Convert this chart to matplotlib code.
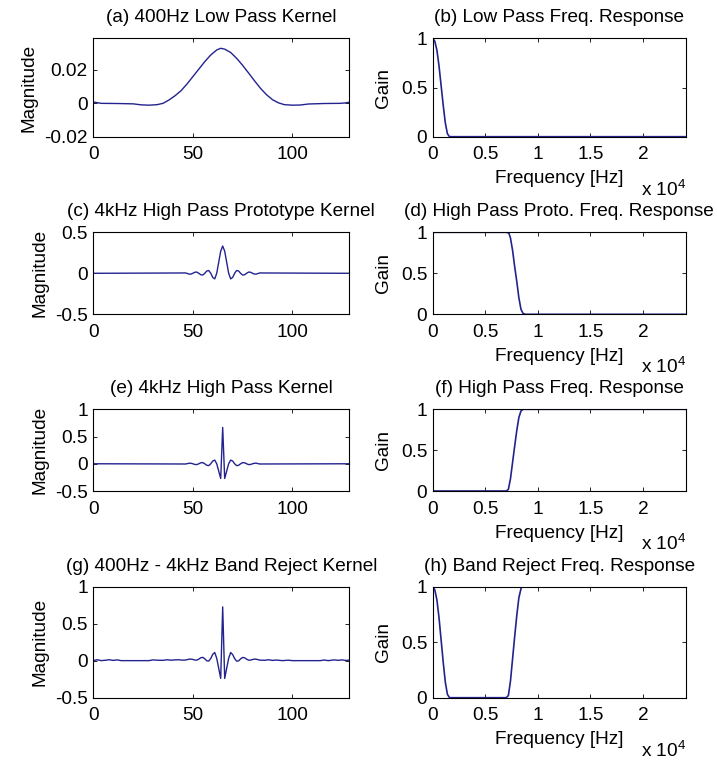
import numpy as np
import matplotlib
matplotlib.use('Agg')
import matplotlib.pyplot as plt

plt.rcParams['font.family'] = ['Liberation Sans', 'DejaVu Sans']
plt.rcParams['mathtext.default'] = 'regular'

# ---- kernels (sample index, value) ----
# (a) 400Hz low pass kernel
lp_n = [0, 4, 12, 20, 24, 28, 32, 35, 38, 41, 44, 47, 50, 53, 56, 59, 62, 64,
        66, 69, 72, 75, 78, 81, 84, 87, 90, 93, 96, 100, 104, 108, 116, 124, 127, 129]
lp_v = [0.0008, 0.0, -0.0001, -0.0003, -0.0009, -0.0011, -0.0008, 0.0, 0.002,
        0.0045, 0.0075, 0.0115, 0.016, 0.0205, 0.025, 0.029, 0.032, 0.033,
        0.0325, 0.0305, 0.027, 0.0228, 0.0182, 0.0135, 0.009, 0.0052, 0.0022,
        0.0003, -0.0008, -0.0011, -0.001, -0.0004, -0.0001, 0.0, 0.0003, 0.0008]

# samples 45..85 around the centre tap (65)
core_n = list(range(45, 86))
# (c) 4kHz high pass prototype kernel
proto_v = [0.004, 0.005, 0.0, -0.009, -0.010, 0.0, 0.013, 0.015, 0.0, -0.018,
           -0.021, 0.0, 0.028, 0.034, 0.0, -0.050, -0.068, 0.0, 0.135, 0.270,
           0.333,
           0.270, 0.135, 0.0, -0.068, -0.050, 0.0, 0.034, 0.028, 0.0, -0.021,
           -0.018, 0.0, 0.015, 0.013, 0.0, -0.010, -0.009, 0.0, 0.005, 0.004]
# (e) 4kHz high pass kernel
hp_v = [-0.004, -0.005, 0.0, 0.009, 0.010, 0.0, -0.013, -0.015, 0.0, 0.018,
        0.021, 0.0, -0.028, -0.034, 0.0, 0.050, 0.068, 0.0, -0.135, -0.270,
        0.667,
        -0.270, -0.135, 0.0, 0.068, 0.050, 0.0, -0.034, -0.028, 0.0, 0.021,
        0.018, 0.0, -0.015, -0.013, 0.0, 0.010, 0.009, 0.0, -0.005, -0.004]
# (g) 400Hz - 4kHz band reject kernel
br_v = [0.007, 0.007, 0.012, 0.019, 0.021, 0.016, 0.008, 0.007, 0.021, 0.039,
        0.044, 0.025, -0.002, -0.006, 0.029, 0.085, 0.110, 0.032, -0.103, -0.240,
        0.725,
        -0.240, -0.103, 0.031, 0.110, 0.082, 0.028, -0.007, -0.003, 0.024, 0.043,
        0.038, 0.020, 0.006, 0.007, 0.015, 0.021, 0.018, 0.011, 0.006, 0.006]
br_left_n = [0, 2, 4, 6, 8, 10, 12, 14, 28, 30, 32, 35, 37, 39, 41, 43, 44]
br_left_v = [0.0, 0.012, 0.0, 0.005, 0.012, 0.003, 0.010, 0.0, 0.0, 0.010,
             0.006, 0.004, 0.012, 0.006, 0.010, 0.012, 0.008]
br_right_n = [86, 88, 90, 92, 95, 98, 100, 114, 116, 118, 121, 123, 125, 127, 129]
br_right_v = [0.004, 0.012, 0.003, 0.008, 0.0, 0.006, 0.0, 0.0, 0.008, 0.0,
              0.010, 0.004, 0.010, 0.002, 0.010]

# ---- frequency responses (Hz, gain) ----
lp_f = [0, 200, 400, 600, 800, 1000, 1200, 1400, 1600, 24100]
lp_g = [1.0, 0.97, 0.88, 0.72, 0.52, 0.32, 0.14, 0.03, 0.0, 0.0]
proto_f = [0, 7000, 7250, 7400, 7600, 7800, 8000, 8200, 8400, 8600, 8800, 24100]
proto_g = [1.0, 1.0, 0.99, 0.93, 0.78, 0.58, 0.40, 0.20, 0.06, 0.01, 0.0, 0.0]
hp_f = [0, 7000, 7200, 7400, 7600, 7800, 8000, 8200, 8400, 8600, 24100]
hp_g = [0.0, 0.0, 0.02, 0.15, 0.35, 0.55, 0.74, 0.90, 0.98, 1.0, 1.0]
br_f = [0, 200, 400, 600, 800, 1000, 1200, 1400, 1600, 7000, 7200, 7400,
        7600, 7800, 8000, 8200, 8400, 8600, 24100]
br_g = [1.0, 0.97, 0.88, 0.72, 0.52, 0.32, 0.14, 0.03, 0.0, 0.0, 0.02, 0.15,
        0.35, 0.55, 0.74, 0.90, 0.98, 1.02, 1.05]

freq_ticks = [0, 5000, 10000, 15000, 20000]
freq_labels = ['0', '0.5', '1', '1.5', '2']

titles = ['(a) 400Hz Low Pass Kernel', '(b) Low Pass Freq. Response',
          '(c) 4kHz High Pass Prototype Kernel', '(d) High Pass Proto. Freq. Response',
          '(e) 4kHz High Pass Kernel', '(f) High Pass Freq. Response',
          '(g) 400Hz - 4kHz Band Reject Kernel', '(h) Band Reject Freq. Response']

col = '#23238f'
fs = 13.7
W, H = 717, 762
fig = plt.figure(figsize=(W / 100, H / 100), dpi=100)

def box(l, t, r, b):
    return fig.add_axes([l / W, 1 - b / H, (r - l) / W, (b - t) / H])

rows = [(38.3, 136.7), (232.3, 314.3), (409.3, 491.0), (586.5, 697.7)]
ax = {}
for i, (t, b) in enumerate(rows):
    ax[2 * i] = box(93.3, t, 349.3, b)
    ax[2 * i + 1] = box(432.7, t, 686.0, b)

for k in ax:
    a = ax[k]
    a.tick_params(direction='in', top=True, right=True, length=3, width=0.6,
                  labelsize=fs)
    a.tick_params(axis='x', pad=7)
    a.tick_params(axis='y', pad=4)
    for s in a.spines.values():
        s.set_linewidth(0.8)
    a.set_title(titles[k], fontsize=fs, pad=11.5)

# left column: kernels
ax[0].plot(lp_n, lp_v, color=col, lw=1.0)
ax[2].plot([0] + core_n + [129], [0] + proto_v + [0], color=col, lw=1.0)
ax[4].plot([0] + core_n + [129], [0] + hp_v + [0], color=col, lw=1.0)
ax[6].plot(br_left_n + core_n + br_right_n, br_left_v + br_v + br_right_v,
           color=col, lw=1.0)

ax[0].set_ylim(-0.02, 0.039)
ax[0].set_yticks([-0.02, 0, 0.02])
ax[0].set_yticklabels(['-0.02', '0', '0.02'])
ax[2].set_ylim(-0.5, 0.5)
ax[2].set_yticks([-0.5, 0, 0.5])
ax[2].set_yticklabels(['-0.5', '0', '0.5'])
for k in (4, 6):
    ax[k].set_ylim(-0.5, 1)
    ax[k].set_yticks([-0.5, 0, 0.5, 1])
    ax[k].set_yticklabels(['-0.5', '0', '0.5', '1'])
for k in (0, 2, 4, 6):
    ax[k].set_xlim(0, 128.6)
    ax[k].set_xticks([0, 50, 100])
    ax[k].set_ylabel('Magnitude', fontsize=fs, labelpad=5)

# right column: frequency responses
ax[1].plot(lp_f, lp_g, color=col, lw=1.2)
ax[3].plot(proto_f, proto_g, color=col, lw=1.2)
ax[5].plot(hp_f, hp_g, color=col, lw=1.2)
ax[7].plot(br_f, br_g, color=col, lw=1.2)
for k in (1, 3, 5, 7):
    a = ax[k]
    a.set_xlim(0, 24100)
    a.set_ylim(0, 1)
    a.set_xticks(freq_ticks)
    a.set_xticklabels(freq_labels)
    a.set_yticks([0, 0.5, 1])
    a.set_yticklabels(['0', '0.5', '1'])
    a.set_ylabel('Gain', fontsize=fs, labelpad=6)
    a.set_xlabel('Frequency [Hz]', fontsize=fs, labelpad=5)
    a.annotate('x 10$^{4}$', xy=(1, 0), xycoords='axes fraction',
               xytext=(0, -38), textcoords='offset points',
               ha='right', va='center', fontsize=fs)

fig.savefig('out.png', dpi=100)
